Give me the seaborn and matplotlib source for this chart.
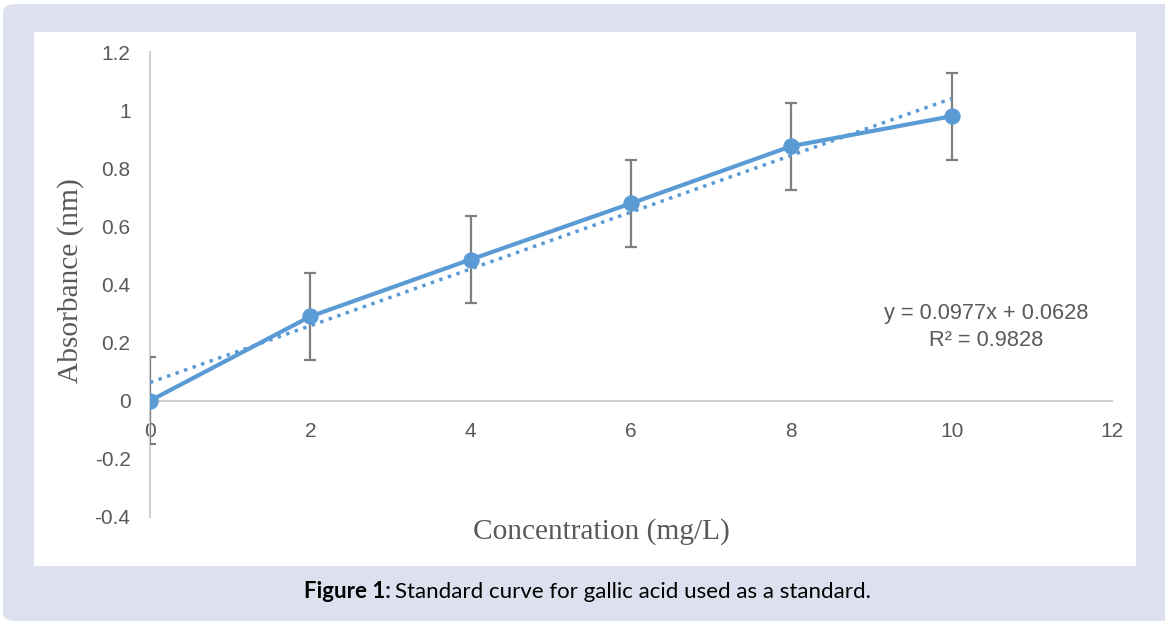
import numpy as np
import pandas as pd
import matplotlib
matplotlib.use("Agg")
import matplotlib.pyplot as plt
from matplotlib.patches import FancyBboxPatch, Rectangle
import seaborn as sns

# Data
concentration = [0, 2, 4, 6, 8, 10]
absorbance = [0.0, 0.29, 0.486, 0.679, 0.876, 0.979]
error = [0.15, 0.15, 0.15, 0.15, 0.15, 0.15]

# Linear trendline shown on the chart
slope = 0.0977
intercept = 0.0628
r_squared = 0.9828

x_ticks = [0, 2, 4, 6, 8, 10, 12]
y_ticks = [-0.4, -0.2, 0, 0.2, 0.4, 0.6, 0.8, 1, 1.2]
y_tick_labels = ["-0.4", "-0.2", "0", "0.2", "0.4", "0.6", "0.8", "1", "1.2"]

line_color = "#5b9bd5"
text_gray = "#595959"
frame_color = "#dde0ee"

sns.set_style("white")
plt.rcParams["font.family"] = ["Liberation Sans", "DejaVu Sans"]

W, H = 1165, 625
fig = plt.figure(figsize=(W / 100, H / 100), dpi=100)
fig.patch.set_facecolor("white")

# lavender frame with rounded corners, white chart panel on top
fig.patches.append(FancyBboxPatch((3 / W, 4 / H), (W + 20) / W, (H - 8) / H,
                                  boxstyle="round,pad=0,rounding_size=0.012",
                                  transform=fig.transFigure, facecolor=frame_color,
                                  edgecolor="none", zorder=0))
fig.patches.append(Rectangle((34 / W, (H - 566) / H), (1136 - 34) / W, (566 - 32) / H,
                             transform=fig.transFigure, facecolor="white",
                             edgecolor="none", zorder=1))

ax = fig.add_axes([150 / W, (H - 517) / H, (1112 - 150) / W, (517 - 52) / H])
ax.set_facecolor("none")
ax.set_zorder(5)

df = pd.DataFrame({"conc": concentration, "abs": absorbance, "err": error})

# error bars
ax.errorbar(df["conc"], df["abs"], yerr=df["err"], fmt="none",
            ecolor="#7f7f7f", elinewidth=1.6, capsize=4.5, capthick=1.6, zorder=2)

# trendline
trend = pd.DataFrame({"conc": [concentration[0], concentration[-1]]})
trend["abs"] = slope * trend["conc"] + intercept
sns.lineplot(data=trend, x="conc", y="abs", ax=ax, color=line_color,
             linewidth=2.5, linestyle=(0, (1, 1.6)), zorder=3)

# measured data
sns.lineplot(data=df, x="conc", y="abs", ax=ax, color=line_color, linewidth=3,
             marker="o", markersize=11, markeredgecolor=line_color, zorder=4)

ax.set_xlim(0, 12)
ax.set_ylim(-0.4, 1.2)
ax.set_xticks(x_ticks)
ax.set_xticklabels([str(t) for t in x_ticks])
ax.set_yticks(y_ticks)
ax.set_yticklabels(y_tick_labels)
ax.tick_params(axis="both", length=0, labelsize=15, colors=text_gray)
ax.tick_params(axis="x", pad=15)
ax.tick_params(axis="y", pad=14)

for side in ["top", "right"]:
    ax.spines[side].set_visible(False)
ax.spines["bottom"].set_position(("data", 0))
ax.spines["left"].set_position(("data", 0))
for side in ["bottom", "left"]:
    ax.spines[side].set_color("#d0d0d0")
    ax.spines[side].set_linewidth(1.5)
    ax.spines[side].set_zorder(1)

ax.set_xlabel("")
ax.set_ylabel("")
fig.text(601 / W, (H - 532) / H, "Concentration (mg/L)", family="Liberation Serif",
         fontsize=21.2, color=text_gray, ha="center", va="center")
fig.text(71 / W, (H - 281) / H, "Absorbance (nm)", family="Liberation Serif",
         fontsize=21.2, color=text_gray, ha="center", va="center", rotation=90)

fig.text(986 / W, (H - 313) / H, f"y = {slope}x + {intercept}",
         fontsize=15.7, color=text_gray, ha="center", va="center", zorder=6)
fig.text(986 / W, (H - 340) / H, f"R² = {r_squared}",
         fontsize=15.7, color=text_gray, ha="center", va="center", zorder=6)

# caption
fig.text(391 / W, (H - 592) / H, "Figure 1:", family="Lato", fontweight="bold",
         fontsize=16, color="black", ha="right", va="center")
fig.text(395 / W, (H - 592) / H, "Standard curve for gallic acid used as a standard.",
         family="Lato", fontsize=16, color="black", ha="left", va="center")

fig.savefig("out.png", dpi=100)
